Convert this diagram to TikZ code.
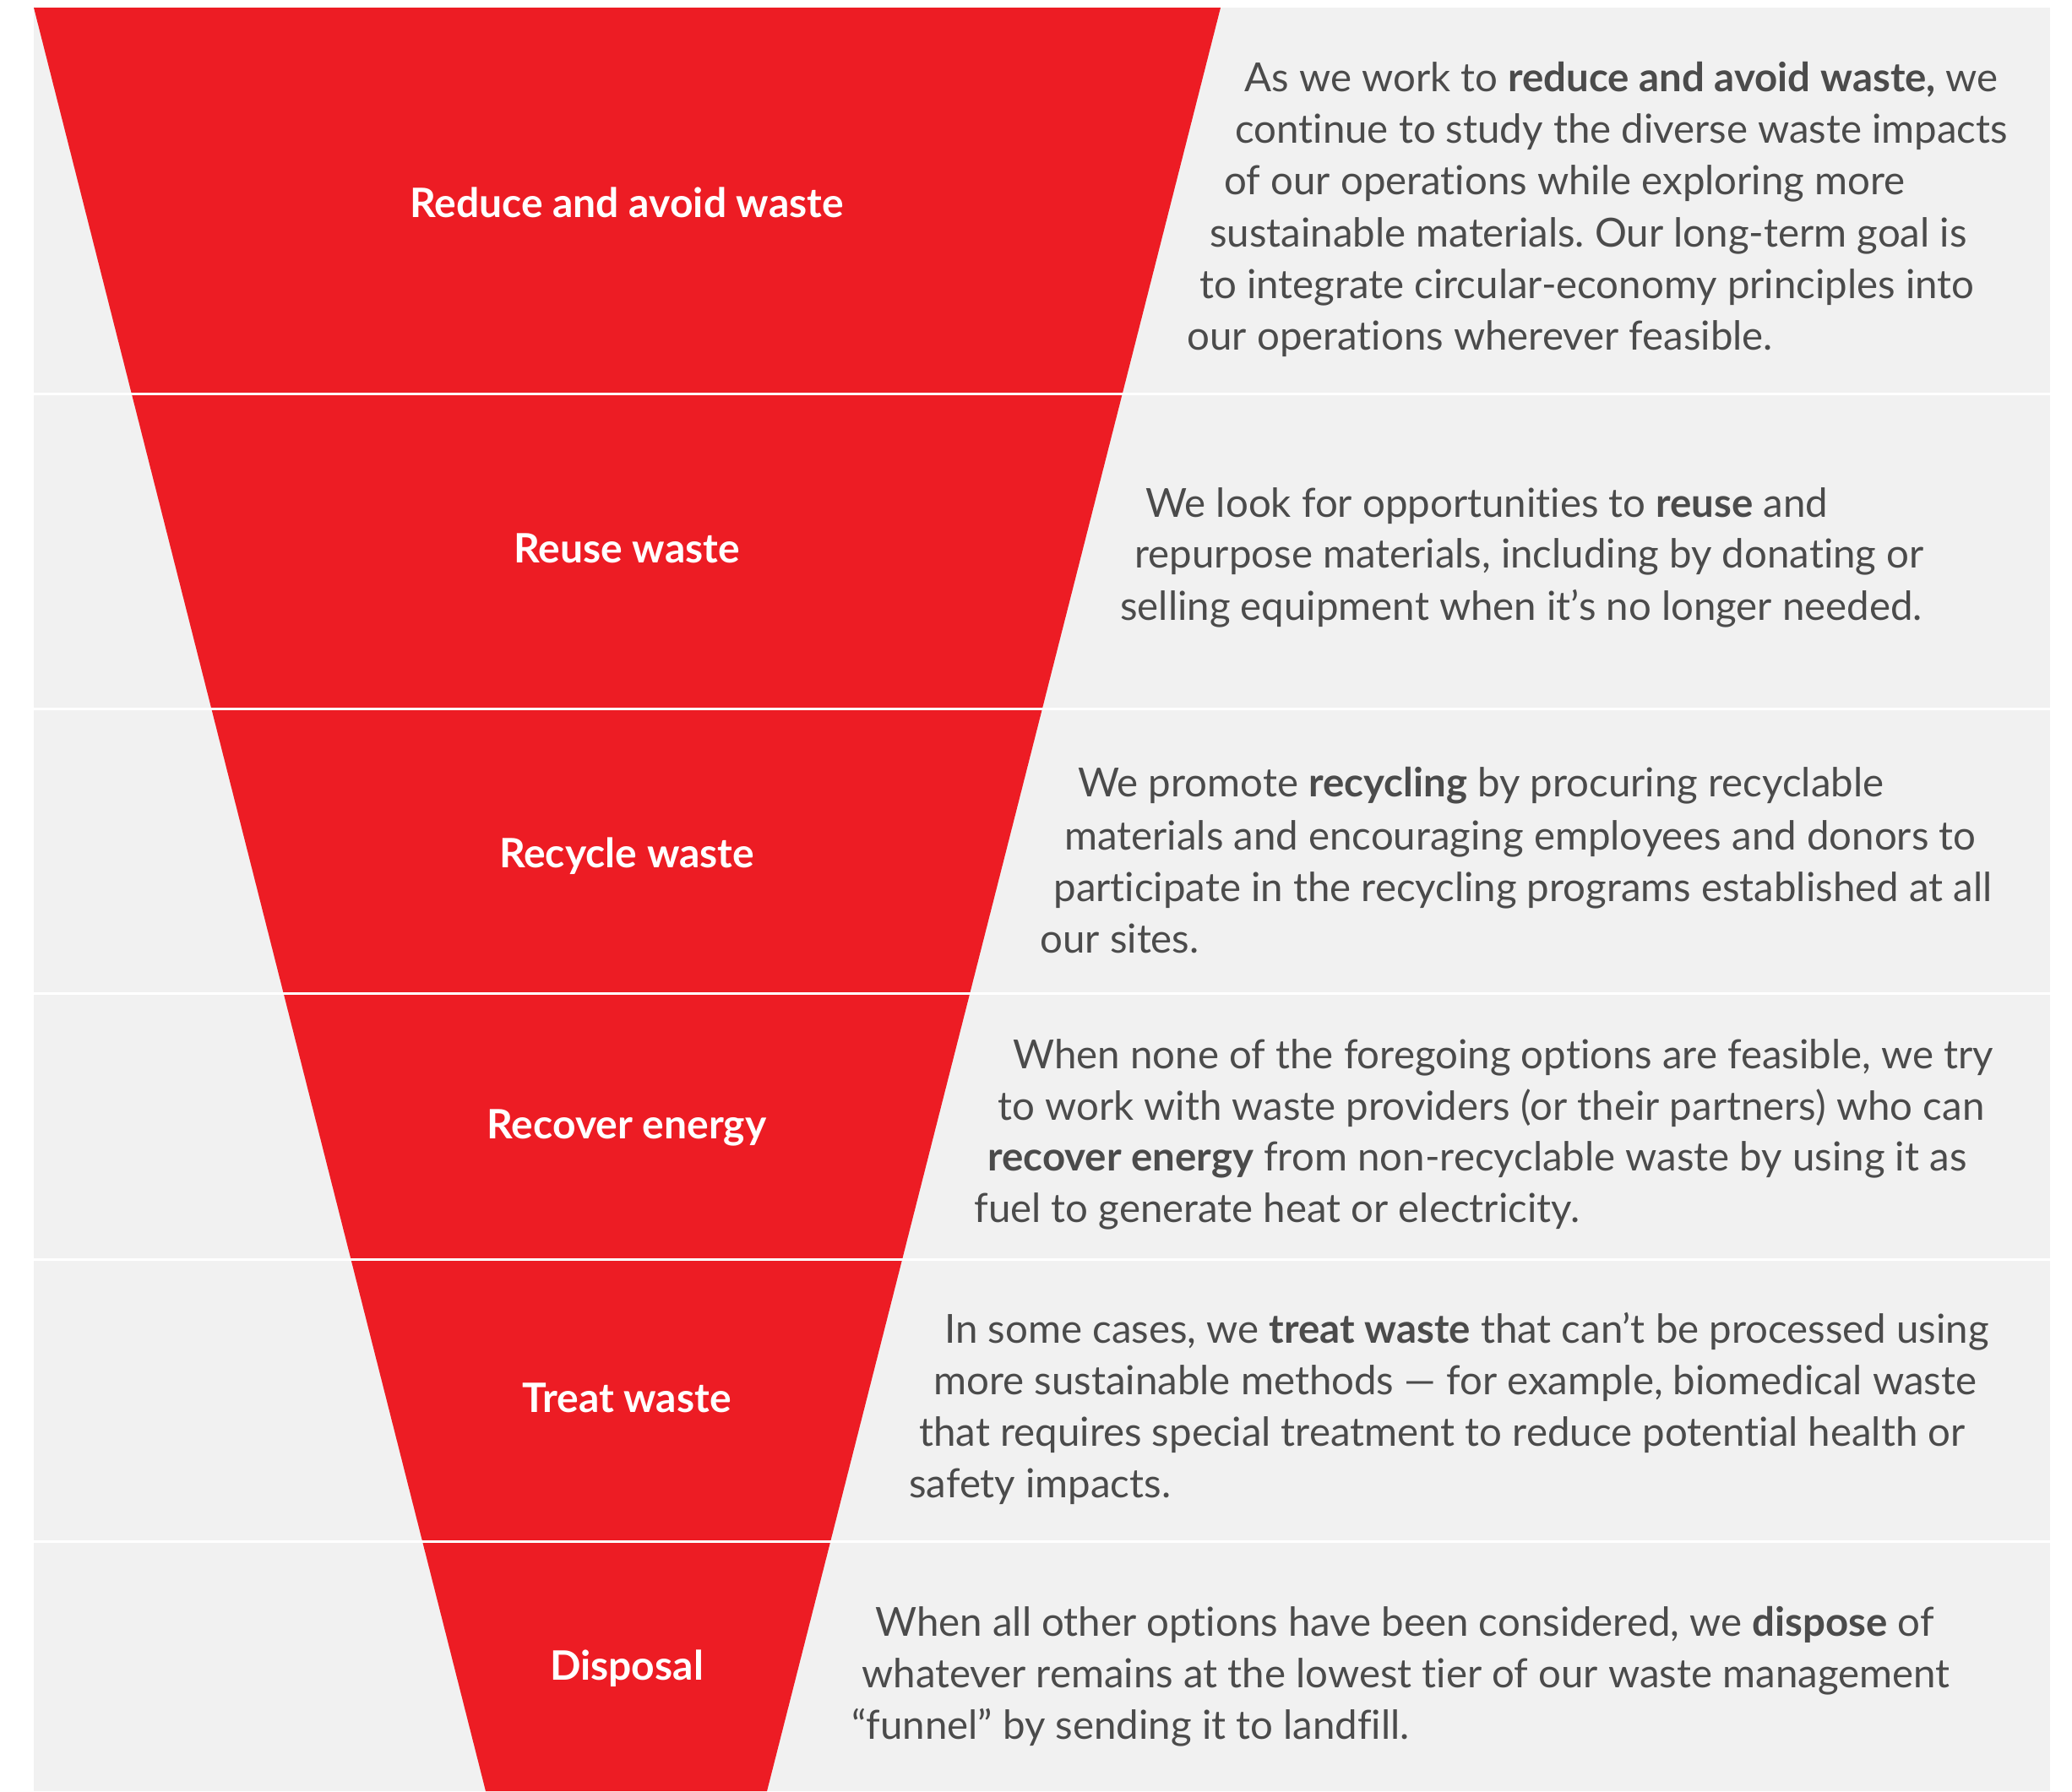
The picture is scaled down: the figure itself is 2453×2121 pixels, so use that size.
\documentclass[tikz,border=0pt]{standalone}
\usepackage{fontspec}
\setmainfont{Lato}[Ligatures=CommonOff]
\frenchspacing
\definecolor{fred}{HTML}{ED1C24}
\definecolor{fgray}{HTML}{F1F1F1}
\definecolor{ftext}{HTML}{4B4B4B}
\newcommand\myfsz{\fontsize{23.7}{28}\selectfont}
\newcommand\mylfsz{\fontsize{24}{28}\selectfont}
\begin{document}
\begin{tikzpicture}[x=0.5pt,y=-0.5pt,
  body/.style={anchor=base west, inner sep=0pt, text=ftext, font=\myfsz},
  lbl/.style={anchor=base, inner sep=0pt, text=white, font=\mylfsz\bfseries},
  sep/.style={draw=white, line width=1.5pt}]
\useasboundingbox (0,0) rectangle (2453,2121);
\fill[white] (0,0) rectangle (2453,2121);
\fill[fgray] (40,9) rectangle (2427,2121);
\fill[fred] (40,9) -- (1445,9) -- (908,2121) -- (575,2121) -- cycle;
\foreach \yy in {466,839,1176,1491,1825}{\draw[sep] (40,\yy) -- (2427,\yy);}
% labels
\node[lbl] (l1) at (742,257) {Reduce and avoid waste};
\node[lbl] (l2) at (742,666) {Reuse waste};
\node[lbl] (l3) at (742,1027) {Recycle waste};
\node[lbl] (l4) at (742,1348) {Recover energy};
\node[lbl] (l5) at (742,1672) {Treat waste};
\node[lbl] (l6) at (742,1989) {Disposal};
% section 1
\node[body] (p1a) at (1473,108) {As we work to \textbf{reduce and avoid waste,} we};
\node[body] (p1b) at (1462,169) {continue to study the diverse waste impacts};
\node[body] (p1c) at (1449,230) {of our operations while exploring more};
\node[body] (p1d) at (1432,292) {sustainable materials. Our long-term goal is};
\node[body] (p1e) at (1420,353) {to integrate circular-economy principles into};
\node[body] (p1f) at (1405,414) {our operations wherever feasible.};
% section 2
\node[body] (p2a) at (1356,612) {We look for opportunities to \textbf{reuse} and};
\node[body] (p2b) at (1343,672) {repurpose materials, including by donating or};
\node[body] (p2c) at (1326,734) {selling equipment when it’s no longer needed.};
% section 3
\node[body] (p3a) at (1276,943) {We promote \textbf{recycling} by procuring recyclable};
\node[body] (p3b) at (1260,1006) {materials and encouraging employees and donors to};
\node[body] (p3c) at (1247,1067) {participate in the recycling programs established at all};
\node[body] (p3d) at (1231,1128) {our sites.};
% section 4
\node[body] (p4a) at (1199,1265) {When none of the foregoing options are feasible, we try};
\node[body] (p4b) at (1181,1326) {to work with waste providers (or their partners) who can};
\node[body] (p4c) at (1169,1386) {\textbf{recover energy} from non-recyclable waste by using it as};
\node[body] (p4d) at (1153,1447) {fuel to generate heat or electricity.};
% section 5
\node[body] (p5a) at (1118,1590) {In some cases, we \textbf{treat waste} that can’t be processed using};
\node[body] (p5b) at (1105,1651) {more sustainable methods — for example, biomedical waste};
\node[body] (p5c) at (1088,1712) {that requires special treatment to reduce potential health or};
\node[body] (p5d) at (1076,1773) {safety impacts.};
% section 6
\node[body] (p6a) at (1036,1937) {When all other options have been considered, we \textbf{dispose} of};
\node[body] (p6b) at (1020,1998) {whatever remains at the lowest tier of our waste management};
\node[body] (p6c) at (1008,2059) {“funnel” by sending it to landfill.};
\end{tikzpicture}
\end{document}
